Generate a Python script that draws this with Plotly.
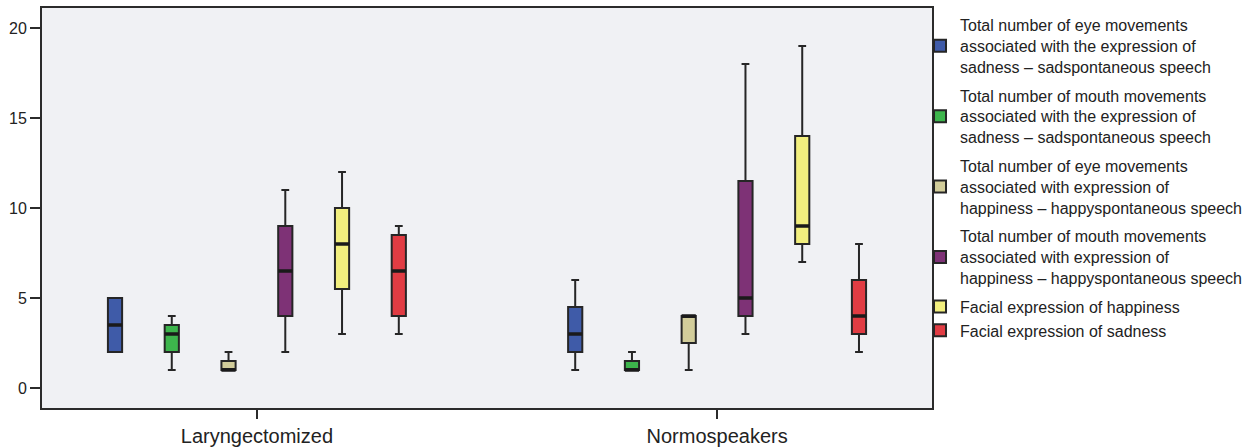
import plotly.graph_objects as go

categories = ["Laryngectomized", "Normospeakers"]

series_names = [
    "Total number of eye movements<br>associated with the expression of<br>sadness – sadspontaneous speech",
    "Total number of mouth movements<br>associated with the expression of<br>sadness – sadspontaneous speech",
    "Total number of eye movements<br>associated with expression of<br>happiness – happyspontaneous speech",
    "Total number of mouth movements<br>associated with expression of<br>happiness – happyspontaneous speech",
    "Facial expression of happiness",
    "Facial expression of sadness",
]

# per series: values for [Laryngectomized, Normospeakers]
eye_sad_lower = [2, 1];     eye_sad_q1 = [2, 2];     eye_sad_med = [3.5, 3];   eye_sad_q3 = [5, 4.5];    eye_sad_upper = [5, 6]
mouth_sad_lower = [1, 1];   mouth_sad_q1 = [2, 1];   mouth_sad_med = [3, 1];   mouth_sad_q3 = [3.5, 1.5]; mouth_sad_upper = [4, 2]
eye_hap_lower = [1, 1];     eye_hap_q1 = [1, 2.5];   eye_hap_med = [1, 4];     eye_hap_q3 = [1.5, 4];    eye_hap_upper = [2, 4]
mouth_hap_lower = [2, 3];   mouth_hap_q1 = [4, 4];   mouth_hap_med = [6.5, 5]; mouth_hap_q3 = [9, 11.5]; mouth_hap_upper = [11, 18]
face_hap_lower = [3, 7];    face_hap_q1 = [5.5, 8];  face_hap_med = [8, 9];    face_hap_q3 = [10, 14];   face_hap_upper = [12, 19]
face_sad_lower = [3, 2];    face_sad_q1 = [4, 3];    face_sad_med = [6.5, 4];  face_sad_q3 = [8.5, 6];   face_sad_upper = [9, 8]

stats = [
    (eye_sad_lower, eye_sad_q1, eye_sad_med, eye_sad_q3, eye_sad_upper),
    (mouth_sad_lower, mouth_sad_q1, mouth_sad_med, mouth_sad_q3, mouth_sad_upper),
    (eye_hap_lower, eye_hap_q1, eye_hap_med, eye_hap_q3, eye_hap_upper),
    (mouth_hap_lower, mouth_hap_q1, mouth_hap_med, mouth_hap_q3, mouth_hap_upper),
    (face_hap_lower, face_hap_q1, face_hap_med, face_hap_q3, face_hap_upper),
    (face_sad_lower, face_sad_q1, face_sad_med, face_sad_q3, face_sad_upper),
]

colors = ["#3F5BA8", "#3DB54C", "#D2CD9A", "#7E3276", "#F2EF7E", "#E13C43"]
groups = ["g1", "g2", "g3", "g4", "g5", "g5"]

fig = go.Figure()
for i, (name, (lo, q1, med, q3, up), col, grp) in enumerate(zip(series_names, stats, colors, groups)):
    fig.add_trace(go.Box(
        x=categories, q1=q1, median=med, q3=q3, lowerfence=lo, upperfence=up,
        name=name, fillcolor=col, boxpoints=False, legendgroup=grp,
        offsetgroup=f"s{i}",
        line=dict(color="#262626", width=2), whiskerwidth=0.55,
    ))
# thicker median bars drawn on top, sharing each series' slot
for i, ((lo, q1, med, q3, up), grp) in enumerate(zip(stats, groups)):
    fig.add_trace(go.Box(
        x=categories, q1=med, median=med, q3=med, lowerfence=med, upperfence=med,
        name="median", showlegend=False, boxpoints=False, legendgroup=grp,
        offsetgroup=f"s{i}", fillcolor="rgba(0,0,0,0)",
        line=dict(color="#1a1a1a", width=3.5), whiskerwidth=0, hoverinfo="skip",
    ))

fig.update_layout(
    width=1249, height=447,
    margin=dict(l=42, r=317, t=8, b=39, autoexpand=False),
    boxmode="group", boxgap=0.26, boxgroupgap=0.75,
    plot_bgcolor="#F0F1F4", paper_bgcolor="white",
    font=dict(family="Liberation Sans, Arial, sans-serif", color="#222222"),
    showlegend=True,
    legend=dict(xref="container", yref="container", x=0.7366, y=0.982,
                xanchor="left", yanchor="top", maxheight=440,
                font=dict(size=16, color="#222222"), tracegroupgap=5,
                bgcolor="rgba(0,0,0,0)", itemclick=False),
    xaxis=dict(type="category", range=[-0.467, 1.467], showline=True, mirror=True,
               linecolor="#2b2b2b", linewidth=2, ticks="outside", ticklen=9,
               tickwidth=2, tickcolor="#2b2b2b", tickfont=dict(size=20), showgrid=False,
               automargin=False),
    yaxis=dict(range=[-1.11, 21.11], tickvals=[0, 5, 10, 15, 20], showline=True, mirror=True,
               linecolor="#2b2b2b", linewidth=2, ticks="outside", ticklen=10,
               tickwidth=2, tickcolor="#2b2b2b", tickfont=dict(size=16), showgrid=False,
               zeroline=False, automargin=False),
)

fig.write_html("out.html")
